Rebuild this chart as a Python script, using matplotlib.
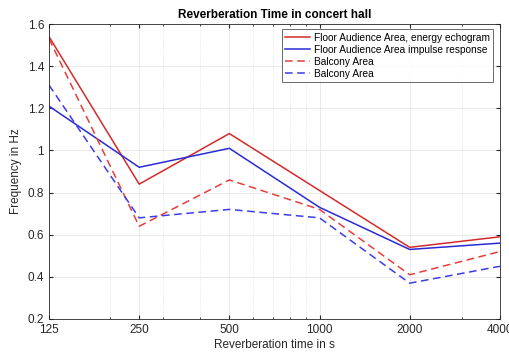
import matplotlib
matplotlib.use("Agg")
import matplotlib.pyplot as plt
from matplotlib.ticker import FixedLocator, NullFormatter, LogLocator

plt.rcParams['font.family'] = ['Liberation Sans', 'DejaVu Sans']

freqs = [125, 250, 500, 1000, 2000, 4000]
floor_echogram = [1.54, 0.84, 1.08, 0.81, 0.54, 0.59]
floor_impulse = [1.21, 0.92, 1.01, 0.73, 0.53, 0.56]
balcony_red = [1.53, 0.64, 0.86, 0.72, 0.41, 0.52]
balcony_blue = [1.31, 0.68, 0.72, 0.68, 0.37, 0.45]
xtick_labels = ['125', '250', '500', '1000', '2000', '4000']
yticks = [0.2, 0.4, 0.6, 0.8, 1.0, 1.2, 1.4, 1.6]
ytick_labels = ['0.2', '0.4', '0.6', '0.8', '1', '1.2', '1.4', '1.6']

fig = plt.figure(figsize=(5.09, 3.54), dpi=100)
ax = fig.add_axes([0.0963, 0.0989, 0.8857, 0.8333])

ax.plot(freqs, floor_echogram, '-', color='#d42a2a', lw=1.1, label='Floor Audience Area, energy echogram')
ax.plot(freqs, floor_impulse, '-', color='#2a2ad4', lw=1.1, label='Floor Audience Area impulse response')
ax.plot(freqs, balcony_red, '--', color='#ea3c3c', lw=1.1, dashes=(5, 3), label='Balcony Area')
ax.plot(freqs, balcony_blue, '--', color='#3c3cea', lw=1.1, dashes=(5, 3), label='Balcony Area')

ax.set_xscale('log')
ax.set_xlim(125, 4000)
ax.set_ylim(0.2, 1.6)
ax.xaxis.set_major_locator(FixedLocator(freqs))
ax.set_xticklabels(xtick_labels)
ax.xaxis.set_minor_locator(LogLocator(base=10, subs=range(2, 10)))
ax.xaxis.set_minor_formatter(NullFormatter())
ax.set_yticks(yticks)
ax.set_yticklabels(ytick_labels)

ax.grid(True, which='major', color='#e6e6e6', lw=0.6)
ax.grid(True, which='minor', axis='x', color='#e0e0e0', lw=0.6, ls=':')
ax.set_axisbelow(True)

ax.tick_params(axis='both', which='both', direction='in', top=True, right=True,
               labelsize=8.5, colors='#262626', length=3)
ax.tick_params(axis='both', which='minor', length=1.5)
for s in ax.spines.values():
    s.set_color('#262626')
    s.set_linewidth(0.6)

ax.set_title('Reverberation Time in concert hall', fontsize=8.5, fontweight='bold', pad=4)
ax.set_xlabel('Reverberation time in s', fontsize=8.5, color='#262626', labelpad=2)
ax.set_ylabel('Frequency in Hz', fontsize=8.5, color='#262626', labelpad=4)

leg = ax.legend(loc='upper right', fontsize=7.3, frameon=True, fancybox=False,
                edgecolor='#262626', handlelength=2.4, borderpad=0.35, labelspacing=0.2,
                handletextpad=0.4, bbox_to_anchor=(0.997, 1.0))
leg.get_frame().set_linewidth(0.6)

fig.savefig('out.png', dpi=100)
